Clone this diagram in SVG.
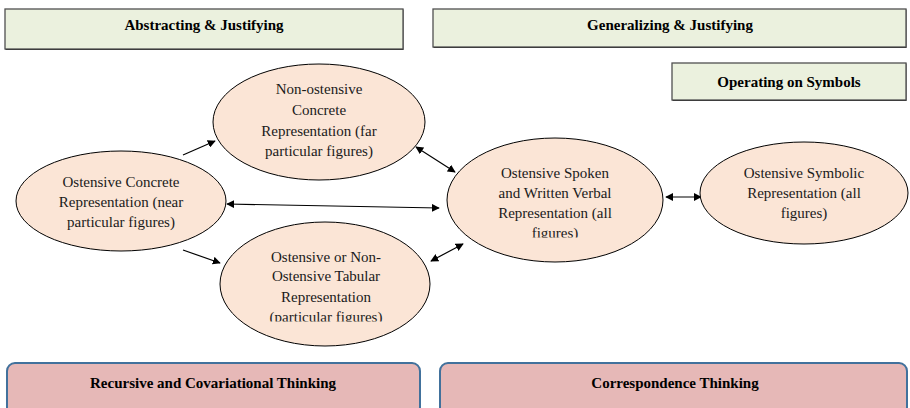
<svg xmlns="http://www.w3.org/2000/svg" width="910" height="408" viewBox="0 0 910 408" font-family="Liberation Serif, serif">
<defs>
<style>
.hdr{fill:#ebf1de;stroke:#505050;stroke-width:1.3}
.shd{fill:#1a1a1a}
.ell{fill:#fbe5d6;stroke:#000;stroke-width:1}
.bot{fill:#e6b8b7;stroke:#41719c;stroke-width:2}
.ht{font-size:15px;font-weight:bold;fill:#000;text-anchor:middle}
.nt{font-size:15px;fill:#1a1a1a;text-anchor:middle}
.cn{stroke:#000;stroke-width:1.2;fill:none}
</style>
<marker id="ah" viewBox="0 0 10 10" refX="9" refY="5" markerWidth="8" markerHeight="8" markerUnits="userSpaceOnUse" orient="auto-start-reverse">
<path d="M0,0 L10,5 L0,10 z" fill="#000"/>
</marker>
<clipPath id="clipTab"><rect x="200" y="300" width="260" height="21.5"/></clipPath>
<clipPath id="clipVerb"><rect x="450" y="220" width="210" height="17.5"/></clipPath>
</defs>
<rect width="910" height="408" fill="#fff"/>

<g id="abstracting">
<rect class="shd" x="5.5" y="9.5" width="398" height="40.5"/>
<rect class="hdr" x="5" y="9" width="398" height="40"/>
<text class="ht" x="204" y="30" font-family="Liberation Serif, serif">Abstracting &amp; Justifying</text>
</g>
<g id="generalizing">
<rect class="shd" x="433.5" y="9.5" width="473" height="38.5"/>
<rect class="hdr" x="433" y="9" width="473" height="38"/>
<text class="ht" x="670" y="30" font-family="Liberation Serif, serif">Generalizing &amp; Justifying</text>
</g>
<g id="operating">
<rect class="shd" x="672.5" y="63.5" width="234" height="37.5"/>
<rect class="hdr" x="672" y="63" width="234" height="37"/>
<text class="ht" x="789" y="87" font-family="Liberation Serif, serif">Operating on Symbols</text>
</g>

<g id="connectors">
<line class="cn" x1="183" y1="155" x2="215" y2="141" marker-end="url(#ah)"/>
<line class="cn" x1="183" y1="250" x2="220" y2="263" marker-end="url(#ah)"/>
<line class="cn" x1="227" y1="204" x2="439" y2="208" marker-start="url(#ah)" marker-end="url(#ah)"/>
<line class="cn" x1="416" y1="147" x2="455" y2="172" marker-start="url(#ah)" marker-end="url(#ah)"/>
<line class="cn" x1="431" y1="261" x2="463" y2="244" marker-start="url(#ah)" marker-end="url(#ah)"/>
<line class="cn" x1="666" y1="197" x2="701" y2="197" marker-start="url(#ah)" marker-end="url(#ah)"/>
</g>

<g id="ostensive-concrete" font-family="Liberation Serif, serif">
<ellipse class="ell" cx="121" cy="201" rx="105" ry="50"/>
<text class="nt" x="121" y="187">Ostensive Concrete</text>
<text class="nt" x="121" y="207">Representation (near</text>
<text class="nt" x="121" y="227">particular figures)</text>
</g>
<g id="non-ostensive-concrete" font-family="Liberation Serif, serif">
<ellipse class="ell" cx="319" cy="122" rx="106" ry="58"/>
<text class="nt" x="319" y="94">Non-ostensive</text>
<text class="nt" x="319" y="115">Concrete</text>
<text class="nt" x="319" y="136">Representation (far</text>
<text class="nt" x="319" y="156">particular figures)</text>
</g>
<g id="tabular" font-family="Liberation Serif, serif">
<ellipse class="ell" cx="325" cy="284" rx="105" ry="62"/>
<text class="nt" x="326" y="262">Ostensive or Non-</text>
<text class="nt" x="326" y="281">Ostensive Tabular</text>
<text class="nt" x="326" y="302">Representation</text>
<text class="nt" x="326" y="322" clip-path="url(#clipTab)">(particular figures)</text>
</g>
<g id="verbal" font-family="Liberation Serif, serif">
<ellipse class="ell" cx="555" cy="200" rx="108" ry="62"/>
<text class="nt" x="555" y="178">Ostensive Spoken</text>
<text class="nt" x="555" y="198">and Written Verbal</text>
<text class="nt" x="555" y="218">Representation (all</text>
<text class="nt" x="555" y="238" clip-path="url(#clipVerb)">figures)</text>
</g>
<g id="symbolic" font-family="Liberation Serif, serif">
<ellipse class="ell" cx="804" cy="193" rx="104" ry="51"/>
<text class="nt" x="804" y="178">Ostensive Symbolic</text>
<text class="nt" x="804" y="198">Representation (all</text>
<text class="nt" x="804" y="218">figures)</text>
</g>

<g id="recursive">
<rect class="bot" x="7" y="363" width="413" height="52" rx="8"/>
<text class="ht" x="213" y="388" font-family="Liberation Serif, serif">Recursive and Covariational Thinking</text>
</g>
<g id="correspondence">
<rect class="bot" x="440" y="363" width="467" height="52" rx="8"/>
<text class="ht" x="675" y="388" font-family="Liberation Serif, serif">Correspondence Thinking</text>
</g>
</svg>
